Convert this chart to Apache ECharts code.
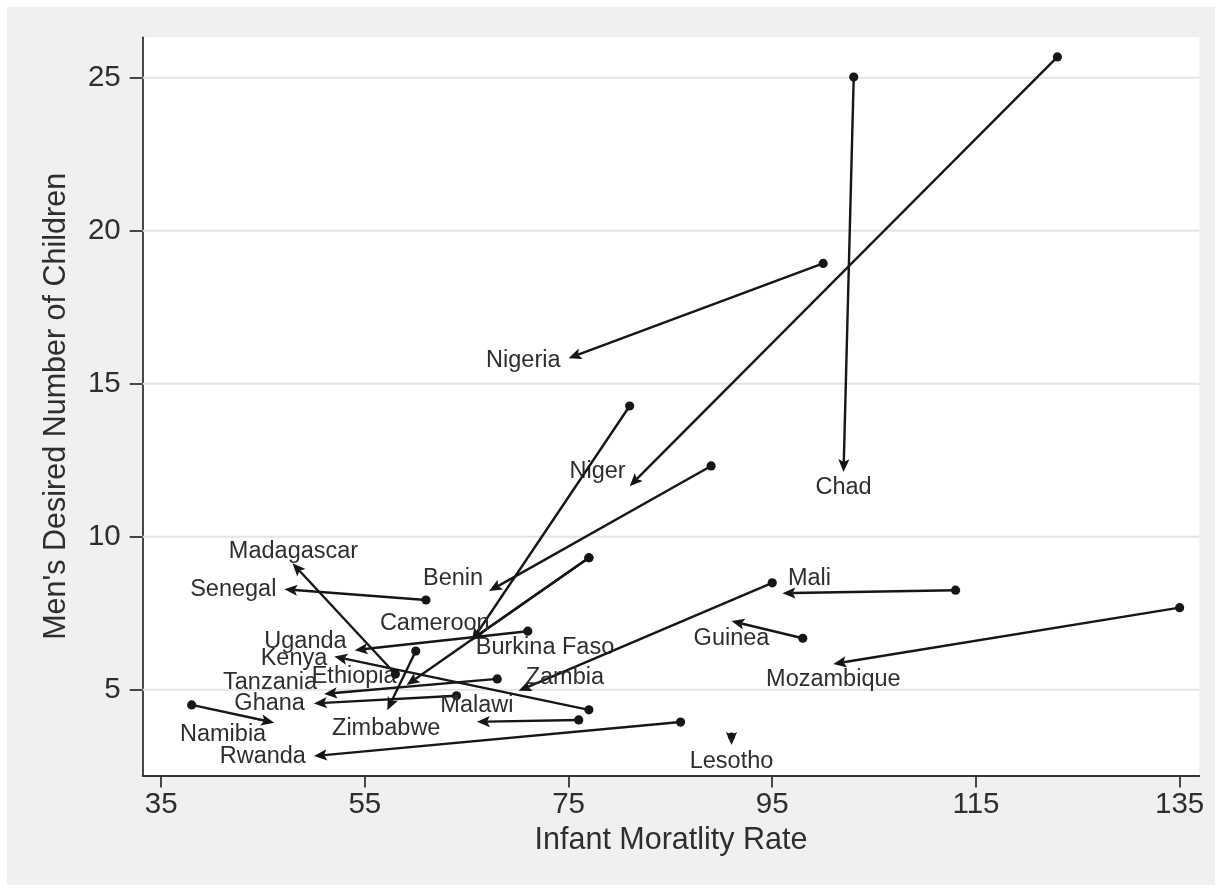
<!DOCTYPE html>
<html>
<head>
<meta charset="utf-8">
<script src="https://cdn.jsdelivr.net/npm/echarts@6/dist/echarts.min.js"></script>
<style>
html,body{margin:0;padding:0;background:#ffffff;}
#bg{position:absolute;left:7px;top:7px;width:1208px;height:878px;background:#eff0f2;}
#chart{position:absolute;left:0;top:0;width:1220px;height:892px;}
</style>
</head>
<body>
<div id="bg"></div>
<div id="chart"></div>
<script>
// ---- data ----
const countries = ['Chad','Niger','Nigeria','Burkina Faso','Benin','Ethiopia','Cameroon','Senegal',
  'Madagascar','Uganda','Kenya','Zimbabwe','Tanzania','Ghana','Malawi','Rwanda','Namibia',
  'Zambia','Mali','Guinea','Mozambique','Lesotho'];
// earlier survey (dot)
const imrStart     = [103.0, 123.0, 100.0, 81.0, 89.0, 77.0, 77.0, 61.0, 58.0, 71.0, 77.0, 60.0, 68.0, 64.0, 76.0, 86.0, 38.0, 95.0, 113.0, 98.0, 135.0, 91.0];
const desiredStart = [25.02, 25.68, 18.93, 14.27, 12.31, 9.31, 9.31, 7.93, 5.51, 6.91, 4.34, 6.26, 5.35, 4.80, 4.01, 3.94, 4.50, 8.49, 8.25, 6.68, 7.68, 3.48];
// later survey (arrow head)
const imrEnd       = [102.0, 81.0, 75.0, 65.5, 67.2, 59.1, 65.4, 47.1, 47.9, 54.0, 52.0, 57.2, 51.0, 50.0, 66.0, 50.0, 46.1, 70.1, 96.0, 91.0, 101.0, 91.0];
const desiredEnd   = [12.11, 11.65, 15.83, 6.59, 8.22, 5.15, 6.62, 8.28, 9.13, 6.29, 6.08, 4.33, 4.86, 4.55, 3.95, 2.83, 3.92, 4.96, 8.15, 7.24, 5.84, 3.19];
const xTicks = [35, 55, 75, 95, 115, 135];
const yTicks = [5, 10, 15, 20, 25];

// ---- layout (label offsets from arrow tip, px) ----
const labelPlace = [
  [0, 15, 'center'], [-4, -15, 'right'], [-8, 2, 'right'], [4, 7, 'left'], [-6, -13, 'right'],
  [-10, -9, 'right'], [-36, -17, 'center'], [-8, 0, 'right'], [1, -12, 'center'], [-8, -9, 'right'],
  [-7, 2, 'right'], [-1, 18, 'center'], [-7, -11, 'right'], [-9, 0, 'right'], [0, -16, 'center'],
  [-8, 0, 'right'], [-8, 12, 'right'], [7, -13, 'left'], [5.5, -15, 'left'], [0, 17, 'center'],
  [0, 16, 'center'], [0, 16, 'center']
];

const X_MIN = 33.19, X_MAX = 136.93, Y_MIN = 2.197, Y_MAX = 26.32;
const FONT = '"Liberation Sans", Arial, Helvetica, sans-serif';
const INK = '#161616';
const TXT = '#2e2e2e';

const arrowData = countries.map((c, i) => [imrStart[i], desiredStart[i], imrEnd[i], desiredEnd[i]]);
const gridData = yTicks.map(v => [X_MIN, v, X_MAX]);

function renderArrow(params, api) {
  const i = params.dataIndex;
  const p1 = api.coord([api.value(0), api.value(1)]);
  const p2 = api.coord([api.value(2), api.value(3)]);
  const dx = p2[0] - p1[0], dy = p2[1] - p1[1];
  const len = Math.hypot(dx, dy) || 1;
  const ux = dx / len, uy = dy / len;
  const L = 13, W = 5.6, N = 2.8;
  const bx = p2[0] - ux * L, by = p2[1] - uy * L;
  const nx = p2[0] - ux * (L - N), ny = p2[1] - uy * (L - N);
  const left = [bx - uy * W, by + ux * W];
  const right = [bx + uy * W, by - ux * W];
  const lp = labelPlace[i];
  const children = [];
  if (len > L) {
    children.push({type: 'line', shape: {x1: p1[0], y1: p1[1], x2: nx, y2: ny},
      style: {stroke: INK, lineWidth: 2.4}});
  }
  const r = len > L ? 4.6 : 3.6;
  children.push({type: 'circle', shape: {cx: p1[0], cy: p1[1], r: r}, style: {fill: INK}});
  children.push({type: 'polygon', shape: {points: [p2, left, [nx, ny], right]}, style: {fill: INK}});
  children.push({type: 'text', x: p2[0] + lp[0], y: p2[1] + lp[1],
    style: {text: countries[i], fill: TXT, font: '23.5px ' + FONT, align: lp[2], verticalAlign: 'middle'}});
  return {type: 'group', children};
}

function renderGrid(params, api) {
  const a = api.coord([api.value(0), api.value(1)]);
  const b = api.coord([api.value(2), api.value(1)]);
  return {type: 'line', shape: {x1: a[0], y1: a[1], x2: b[0], y2: b[1]},
    style: {stroke: '#e3e4e6', lineWidth: 2}};
}

const chart = echarts.init(document.getElementById('chart'), null, {renderer: 'canvas'});
chart.setOption({
  backgroundColor: 'transparent',
  animation: false,
  grid: {left: 142.7, top: 37.3, right: 20.7, bottom: 116.6, show: true,
    backgroundColor: '#ffffff', borderWidth: 0},
  xAxis: {
    type: 'value', min: X_MIN, max: X_MAX,
    name: 'Infant Moratlity Rate', nameLocation: 'middle', nameGap: 50,
    nameTextStyle: {fontSize: 30.5, color: TXT, fontFamily: FONT},
    axisLine: {show: true, lineStyle: {color: '#333333', width: 1.8}},
    axisTick: {show: true, length: 12, customValues: xTicks, lineStyle: {color: '#333333', width: 1.8}},
    axisLabel: {customValues: xTicks, fontSize: 29.5, color: TXT, fontFamily: FONT, margin: 14},
    splitLine: {show: false}
  },
  yAxis: {
    type: 'value', min: Y_MIN, max: Y_MAX,
    name: "Men's Desired Number of Children", nameLocation: 'middle', nameGap: 71,
    nameTextStyle: {fontSize: 30.5, color: TXT, fontFamily: FONT},
    axisLine: {show: true, lineStyle: {color: '#333333', width: 1.8}},
    axisTick: {show: true, length: 13, customValues: yTicks, lineStyle: {color: '#333333', width: 1.8}},
    axisLabel: {customValues: yTicks, fontSize: 29.5, color: TXT, fontFamily: FONT, margin: 22},
    splitLine: {show: false}
  },
  series: [
    {type: 'custom', name: 'grid', data: gridData, encode: {x: [0, 2], y: 1},
      renderItem: renderGrid, z: 1, silent: true},
    {type: 'custom', name: 'arrows', data: arrowData, encode: {x: [0, 2], y: [1, 3]},
      renderItem: renderArrow, z: 5, clip: false}
  ]
});
</script>
</body>
</html>
